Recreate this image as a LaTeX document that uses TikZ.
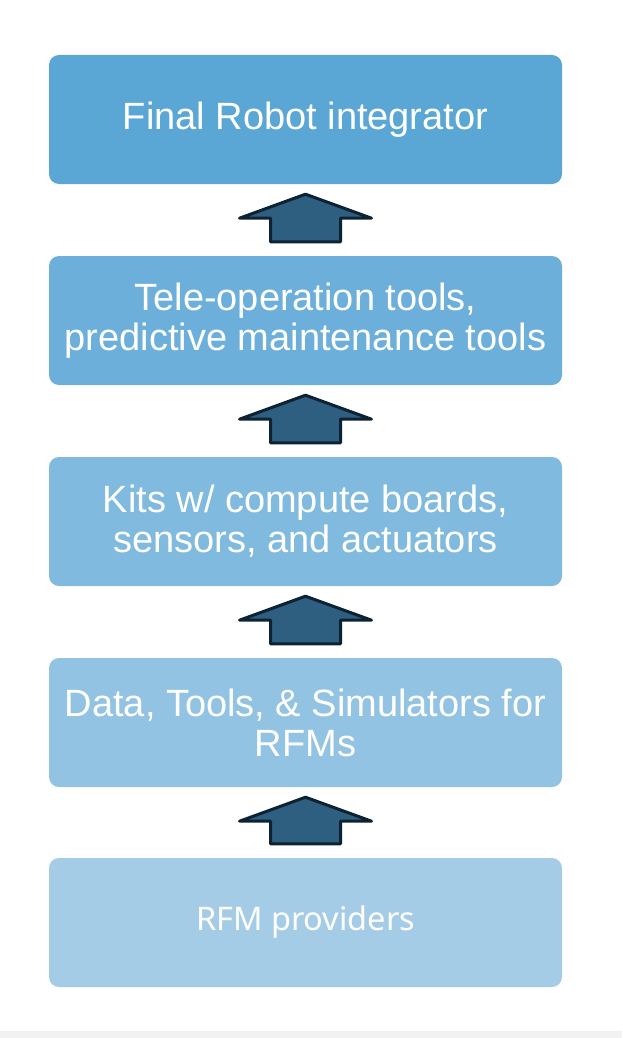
\documentclass[tikz,border=0pt]{standalone}
\usepackage{fontspec}
\setmainfont{Liberation Sans}
\newfontfamily\rfmfont{Noto Sans}
\usetikzlibrary{calc}
\definecolor{cA}{HTML}{5AA6D5}
\definecolor{cB}{HTML}{6BAFDA}
\definecolor{cC}{HTML}{80BADF}
\definecolor{cD}{HTML}{93C3E3}
\definecolor{cE}{HTML}{A5CCE6}
\definecolor{arrfill}{HTML}{2E5F81}
\definecolor{arrline}{HTML}{0D2233}
\definecolor{strip}{HTML}{F2F2F2}
\tikzset{
  layer/.style={rounded corners=10pt, minimum width=513pt, minimum height=129pt,
    inner sep=0pt, align=center, text=white, font=\fontsize{38}{40}\selectfont},
  bigarrow/.style={fill=arrfill, draw=arrline, line width=3pt, line join=round}
}
\begin{document}
\begin{tikzpicture}[x=1pt,y=-1pt]
\useasboundingbox (0,0) rectangle (622,1038);
\fill[white] (0,0) rectangle (622,1038);
\fill[strip] (0,1031) rectangle (622,1038);
\node[layer, fill=cA] (b1) at (305.5,119.5) {Final Robot integrator};
\node[layer, fill=cB] (b2) at (305.5,320.5) {Tele-operation tools,\\predictive maintenance tools};
\node[layer, fill=cC] (b3) at (305.5,521.5) {Kits w/ compute boards,\\sensors, and actuators};
\node[layer, fill=cD] (b4) at (305.5,722.5) {Data, Tools, \& Simulators for\\RFMs};
\node[layer, fill=cE, font=\rfmfont\fontsize{32.5}{36}\selectfont] (b5) at (305.5,922.5) {RFM providers};
\foreach \up/\dn in {b1/b2, b2/b3, b3/b4, b4/b5}{
  \path ($(\up.south)+(0,10)$) coordinate (tip) ($(\dn.north)+(0,-14)$) coordinate (base);
  \draw[bigarrow] (tip) -- ++(66,24) -- ++(-31,0) |- ($(base)+(35,0)$)
    -- ($(base)+(-35,0)$) |- ($(tip)+(-35,24)$) -- ++(-31,0) -- cycle;
}
\end{tikzpicture}
\end{document}
